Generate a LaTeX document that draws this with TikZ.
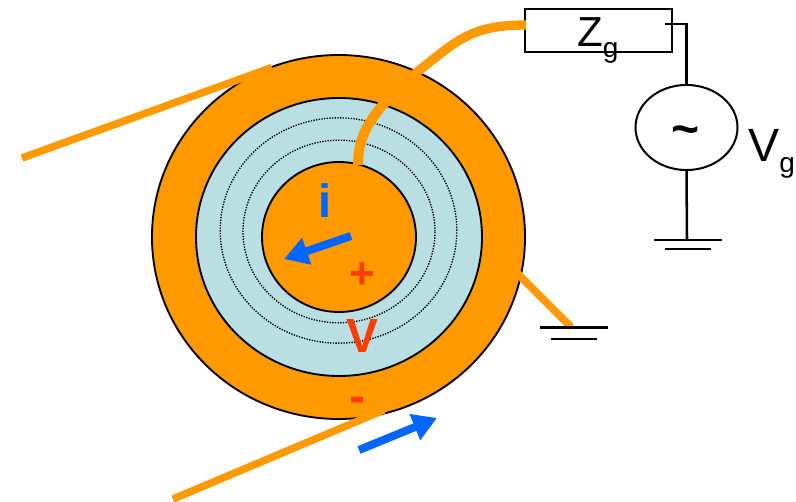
\documentclass[tikz,border=0pt]{standalone}
\usepackage{fontspec}
\setmainfont{Liberation Sans}
\usepackage{tikz}
\usetikzlibrary{arrows.meta}
\usetikzlibrary{positioning}
\usetikzlibrary{shapes.geometric}
\definecolor{coax}{HTML}{FF9900}
\definecolor{gap}{HTML}{B9DFE3}
\definecolor{flow}{HTML}{0066FF}
\definecolor{volt}{HTML}{FF3C00}

\begin{document}
\begin{tikzpicture}[
				x=0.75pt, y=-0.75pt,
				disc/.style={ellipse, draw, line width=1.4pt, inner sep=0pt, outer sep=0pt},
				fieldline/.style={ellipse, draw, densely dotted, line width=1pt, inner sep=0pt, outer sep=0pt},
				feed/.style={draw=coax, line width=5.6pt},
				lead/.style={draw, line width=1.9pt},
				plate/.style={draw, line width=1.5pt},
				current/.style={draw=flow, line width=6pt, -{Triangle[length=18pt, width=20pt]}},
				tag/.style={inner sep=0pt}
			]
			\useasboundingbox (0,0) rectangle (796,502);

			\node[disc, fill=coax, minimum width=279.8pt, minimum height=273pt] (shield) at (338.5,237) {};
			\node[disc, fill=gap, minimum width=214.5pt, minimum height=208.5pt] (dielectric) at (339,237) {};
			\node[fieldline, minimum width=177.5pt, minimum height=169pt] (outerfield) at (338.5,230.5) {};
			\node[fieldline, minimum width=144pt, minimum height=137pt] (innerfield) at (339,231.5) {};
			\node[disc, fill=coax, minimum width=115.5pt, minimum height=112.5pt] (core) at (339,237) {};

			\node[rectangle, plate, fill=white, minimum width=110.2pt, minimum height=32.2pt, inner sep=0pt, outer sep=0pt] (Zg) at (598.5,30.5) {};
			\node[ellipse, plate, fill=white, minimum width=76.5pt, minimum height=63.8pt, inner sep=0pt, outer sep=0pt] (source) at (686.5,127.5) {};

			\coordinate (farleft) at (22,158);
			\coordinate (shieldtop) at (272,67.5);
			\coordinate (farbottom) at (173,499);
			\coordinate (shieldlow) at (384,410);
			\coordinate (shieldright) at (515,271);
			\coordinate (groundend) at (571,327);
			\coordinate (Zfeed) at (526,25);
			\coordinate (shieldfeed) at (412,76);
			\coordinate (corefeed) at (358,165);
			\coordinate (shieldinner) at (386,101);
			\coordinate (Ztap) at (665,24);
			\coordinate (earthtop) at (687,240);
			\coordinate (iarrowa) at (351,236);
			\coordinate (iarrowb) at (284,259);
			\coordinate (jarrowa) at (359,450);
			\coordinate (jarrowb) at (437,418);

			\draw[feed] (farleft) -- (shieldtop);
			\draw[feed] (farbottom) -- (shieldlow);
			\draw[feed] (shieldright) -- (groundend);
			\draw[feed, line width=7pt] (Zfeed) .. controls (468,25) and (456,42) .. (shieldfeed);
			\draw[feed, line width=7.5pt] (corefeed) .. controls (358,138) and (368,122) .. (shieldinner);

			\draw[lead] (Ztap) -| (source.north);
			\draw[lead] (source.south) -- (earthtop);
			\coordinate (earthAa) at (654,240);
			\coordinate (earthAb) at (722,240);
			\coordinate (earthBa) at (665,249);
			\coordinate (earthBb) at (711,249);
			\draw[plate] (earthAa) -- (earthAb);
			\draw[plate] (earthBa) -- (earthBb);
			\coordinate (shieldAa) at (540,327.5);
			\coordinate (shieldAb) at (608,327.5);
			\coordinate (shieldBa) at (551,339);
			\coordinate (shieldBb) at (597,339);
			\draw[plate] (shieldAa) -- (shieldAb);
			\draw[plate] (shieldBa) -- (shieldBb);

			\draw[current] (iarrowa) -- (iarrowb);
			\draw[current] (jarrowa) -- (jarrowb);

			\node[tag, text=flow, font=\bfseries\fontsize{35}{35}\selectfont] (ilabel) at (324.5,201) {i};
			\node[tag, text=volt, font=\bfseries\fontsize{33}{33}\selectfont] (plus) at (362,276) {+};
			\node[tag, text=volt, font=\bfseries\fontsize{36}{36}\selectfont] (vlabel) at (363,336) {V};
			\node[tag, text=volt, font=\bfseries\fontsize{36}{36}\selectfont] (minus) at (357,405) {-};
			\node[tag, font=\fontsize{31.5}{31.5}\selectfont, anchor=base west] (Zlabel) at (577,47) {Z\raisebox{-8pt}{\fontsize{21}{21}\selectfont g}};
			\node[tag, font=\bfseries\fontsize{36}{36}\selectfont] (tilde) at (686,136) {\char`\~};
			\node[tag, font=\fontsize{35}{35}\selectfont, anchor=base west] (Vlabel) at (748,162) {V\raisebox{-8pt}{\fontsize{21}{21}\selectfont g}};

		\end{tikzpicture}
\end{document}
